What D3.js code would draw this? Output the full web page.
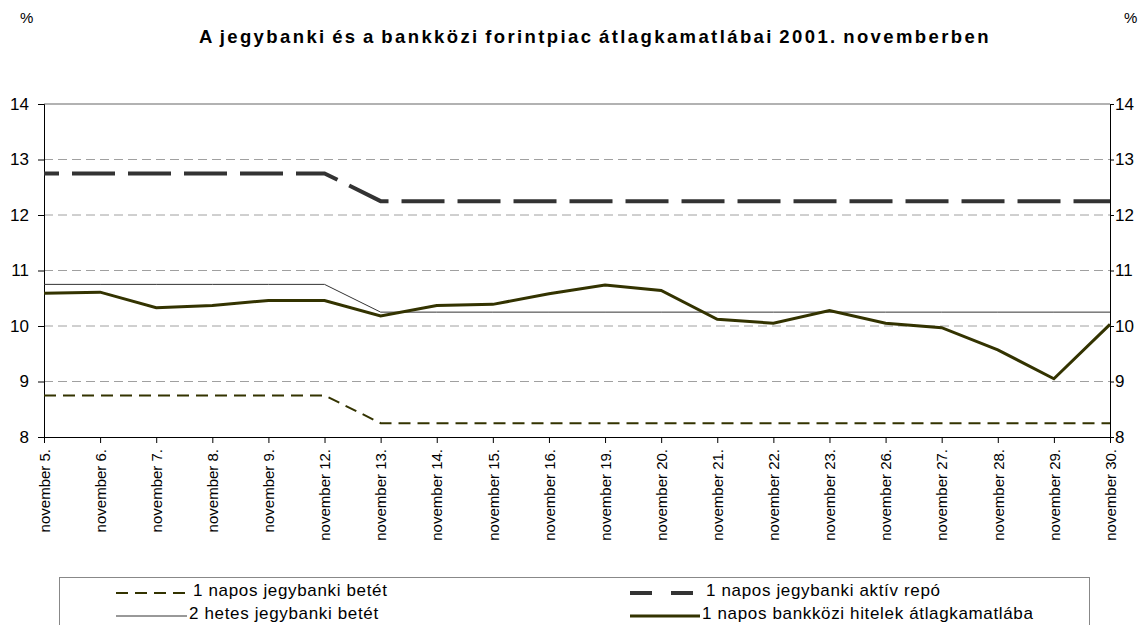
<!DOCTYPE html>
<html>
<head>
<meta charset="utf-8">
<script src="https://cdn.jsdelivr.net/npm/d3@7"></script>
<style>
  body { margin: 0; background: #fff; }
  svg { font-family: "Liberation Sans", Arial, sans-serif; }
</style>
</head>
<body>
<div id="chart"></div>
<script>
// napok (kategóriák)
const days = ["november 5.", "november 6.", "november 7.", "november 8.", "november 9.",
  "november 12.", "november 13.", "november 14.", "november 15.", "november 16.",
  "november 19.", "november 20.", "november 21.", "november 22.", "november 23.",
  "november 26.", "november 27.", "november 28.", "november 29.", "november 30."];

const betet1 = [8.75, 8.75, 8.75, 8.75, 8.75, 8.75, 8.25, 8.25, 8.25, 8.25,
  8.25, 8.25, 8.25, 8.25, 8.25, 8.25, 8.25, 8.25, 8.25, 8.25];
const repo1 = [12.75, 12.75, 12.75, 12.75, 12.75, 12.75, 12.25, 12.25, 12.25, 12.25,
  12.25, 12.25, 12.25, 12.25, 12.25, 12.25, 12.25, 12.25, 12.25, 12.25];
const betet2 = [10.75, 10.75, 10.75, 10.75, 10.75, 10.75, 10.25, 10.25, 10.25, 10.25,
  10.25, 10.25, 10.25, 10.25, 10.25, 10.25, 10.25, 10.25, 10.25, 10.25];
const bankkozi = [10.59, 10.61, 10.33, 10.37, 10.46, 10.46, 10.18, 10.37, 10.39, 10.58,
  10.74, 10.64, 10.12, 10.05, 10.28, 10.05, 9.97, 9.57, 9.05, 10.03];

const yTicks = [8, 9, 10, 11, 12, 13, 14];

const width = 1147, height = 625;
const margin = {left: 44, right: 37, top: 104, bottom: 188};

const svg = d3.select("#chart").append("svg")
    .attr("width", width)
    .attr("height", height);

const x = d3.scalePoint()
    .domain(days)
    .range([margin.left, width - margin.right]);

const y = d3.scaleLinear()
    .domain([8, 14])
    .range([height - margin.bottom, margin.top]);

// title + unit labels
svg.append("text")
    .attr("x", 595).attr("y", 43)
    .attr("text-anchor", "middle")
    .attr("font-size", 18.5).attr("font-weight", "bold")
    .attr("letter-spacing", 2.4)
    .attr("word-spacing", -2)
    .text("A jegybanki és a bankközi forintpiac átlagkamatlábai 2001. novemberben");
svg.append("text").attr("x", 20).attr("y", 23).attr("font-size", 15).text("%");
svg.append("text").attr("x", 1124).attr("y", 23).attr("font-size", 15).text("%");

// grid
svg.append("g")
  .selectAll("line")
  .data(yTicks.filter(d => d > 8 && d < 14))
  .enter().append("line")
    .attr("x1", margin.left).attr("x2", width - margin.right)
    .attr("y1", d => y(d)).attr("y2", d => y(d))
    .attr("stroke", "#a0a0a0").attr("stroke-width", 1)
    .attr("stroke-dasharray", "9,5");
svg.append("line")
    .attr("x1", margin.left).attr("x2", width - margin.right)
    .attr("y1", y(14)).attr("y2", y(14))
    .attr("stroke", "#999").attr("stroke-width", 1.5);

// axes
const yLeft = svg.append("g")
    .attr("transform", "translate(" + margin.left + ",0)")
    .call(d3.axisLeft(y).tickValues(yTicks).tickFormat(d3.format("d")).tickSize(6).tickPadding(9));
const yRight = svg.append("g")
    .attr("transform", "translate(" + (width - margin.right) + ",0)")
    .call(d3.axisRight(y).tickValues(yTicks).tickFormat(d3.format("d")).tickSize(4).tickPadding(1));
[yLeft, yRight].forEach(g => {
  g.select(".domain").attr("stroke", "#000");
  g.selectAll("text").attr("font-size", 17).attr("fill", "#000")
      .attr("font-family", "Liberation Sans, Arial, sans-serif");
});

const xAxis = svg.append("g")
    .attr("transform", "translate(0," + y(8) + ")")
    .call(d3.axisBottom(x).tickSize(6).tickSizeOuter(0));
xAxis.select(".domain").attr("stroke", "#000");
xAxis.selectAll("text")
    .attr("font-size", 15).attr("fill", "#000")
    .attr("font-family", "Liberation Sans, Arial, sans-serif")
    .attr("text-anchor", "end")
    .attr("transform", "rotate(-90)")
    .attr("x", -12).attr("y", 0).attr("dy", "0.35em");

// series
const line = d3.line()
    .x((d, i) => x(days[i]))
    .y(d => y(d));

const series = [
  {name: "1 napos jegybanki betét", values: betet1, color: "#333300", w: 2, dash: "12,7", off: 0},
  {name: "1 napos jegybanki aktív repó", values: repo1, color: "#333333", w: 4, dash: "43,13", off: 28},
  {name: "2 hetes jegybanki betét", values: betet2, color: "#333333", w: 1, dash: null, off: 0},
  {name: "1 napos bankközi hitelek átlagkamatlába", values: bankkozi, color: "#333300", w: 3, dash: null, off: 0}
];

svg.append("g")
  .selectAll("path")
  .data(series)
  .enter().append("path")
    .attr("d", d => line(d.values))
    .attr("fill", "none")
    .attr("stroke", d => d.color)
    .attr("stroke-width", d => d.w)
    .attr("stroke-dasharray", d => d.dash)
    .attr("stroke-dashoffset", d => d.off);

// legend
const legend = svg.append("g");
legend.append("rect")
    .attr("x", 59.5).attr("y", 577.5)
    .attr("width", 1030).attr("height", 60)
    .attr("fill", "none").attr("stroke", "#888").attr("stroke-width", 1);

const legendPos = [
  {sx: 116, ex: 187, tx: 193, ty: 596},
  {sx: 630, ex: 700, tx: 706, ty: 596},
  {sx: 116, ex: 187, tx: 189, ty: 619},
  {sx: 630, ex: 700, tx: 702, ty: 619}
];
const legendDash = ["12,7", "22,19", null, null];

const items = legend.selectAll("g.item")
  .data(series)
  .enter().append("g").attr("class", "item");
items.append("line")
    .attr("x1", (d, i) => legendPos[i].sx)
    .attr("x2", (d, i) => legendPos[i].ex)
    .attr("y1", (d, i) => legendPos[i].ty - 3)
    .attr("y2", (d, i) => legendPos[i].ty - 3)
    .attr("stroke", d => d.color)
    .attr("stroke-width", d => d.w)
    .attr("stroke-dasharray", (d, i) => legendDash[i]);
items.append("text")
    .attr("x", (d, i) => legendPos[i].tx)
    .attr("y", (d, i) => legendPos[i].ty)
    .attr("font-size", 17)
    .attr("letter-spacing", 0.65)
    .text(d => d.name);
</script>
</body>
</html>
